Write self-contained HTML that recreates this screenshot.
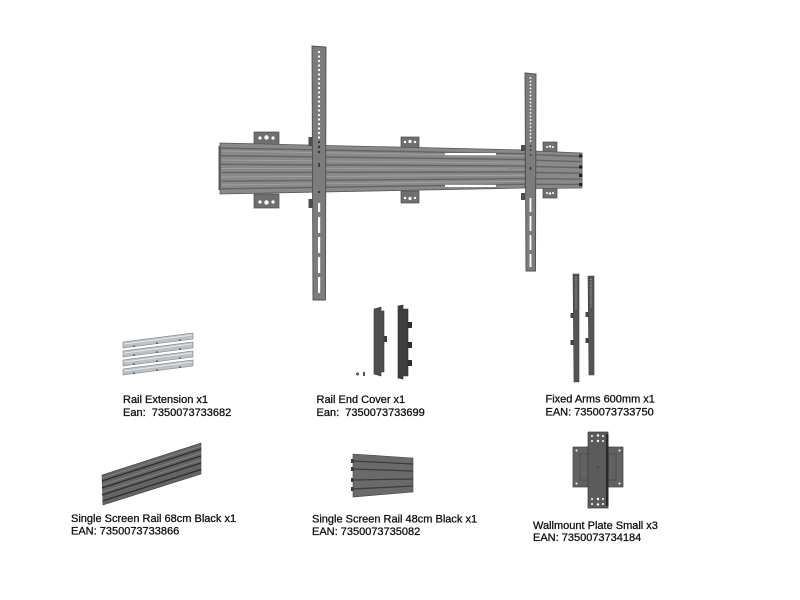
<!DOCTYPE html>
<html><head><meta charset="utf-8"><style>
html,body{margin:0;padding:0;background:#fff;}
svg{display:block;}
text{font-family:"Liberation Sans",Arial,sans-serif;font-size:11px;fill:#111;white-space:pre;stroke:#111;stroke-width:0.3px;}
</style></head><body>
<svg width="800" height="600" viewBox="0 0 800 600" xmlns="http://www.w3.org/2000/svg">
<rect width="800" height="600" fill="#fff"/>

<!-- wall brackets (behind rail) -->
<g fill="#6f6f6f" stroke="#4a4a4a" stroke-width="0.7">
  <rect x="254" y="132" width="25" height="14"/>
  <rect x="254" y="194" width="25" height="14"/>
  <rect x="401" y="137" width="18" height="12"/>
  <rect x="401" y="191" width="18" height="12"/>
  <rect x="543" y="142" width="14" height="11"/>
  <rect x="543" y="187" width="14" height="11"/>
</g>
<g fill="#fff">
  <circle cx="260" cy="138" r="1.6"/><circle cx="266.5" cy="137.5" r="2.2"/><circle cx="273" cy="138" r="1.6"/>
  <circle cx="260" cy="202" r="1.6"/><circle cx="266.5" cy="202.5" r="2.2"/><circle cx="273" cy="202" r="1.6"/>
  <circle cx="405" cy="142" r="1.2"/><circle cx="410" cy="141.5" r="1.6"/><circle cx="415" cy="142" r="1.2"/>
  <circle cx="405" cy="198" r="1.2"/><circle cx="410" cy="198.5" r="1.6"/><circle cx="415" cy="198" r="1.2"/>
  <circle cx="547" cy="147" r="1"/><circle cx="550" cy="146.5" r="1.2"/><circle cx="553" cy="147" r="1"/>
  <circle cx="547" cy="193" r="1"/><circle cx="550" cy="193.5" r="1.2"/><circle cx="553" cy="193" r="1"/>
</g>

<!-- main rail -->
<polygon points="220,143 525,150 525,188 220,194" fill="#898989" stroke="#5a5a5a" stroke-width="0.8"/>
<polygon points="534,151 582,153 582,188 534,188.5" fill="#898989" stroke="#5a5a5a" stroke-width="0.8"/>
<g stroke="#646464" stroke-width="1.4">
  <line x1="220" y1="148.1" x2="525" y2="153.8"/>
  <line x1="220" y1="155.7" x2="525" y2="159.5"/>
  <line x1="220" y1="164.4" x2="525" y2="166"/>
  <line x1="220" y1="172.6" x2="525" y2="172"/>
  <line x1="220" y1="181.2" x2="525" y2="178.5"/>
  <line x1="220" y1="188.9" x2="525" y2="184.2"/>
  <line x1="534" y1="154.7" x2="582" y2="156.5"/>
  <line x1="534" y1="160.2" x2="582" y2="161.7"/>
  <line x1="534" y1="166.5" x2="582" y2="167.7"/>
  <line x1="534" y1="172.5" x2="582" y2="173.3"/>
  <line x1="534" y1="178.7" x2="582" y2="179.2"/>
  <line x1="534" y1="184.3" x2="582" y2="184.5"/>
</g>
<g stroke="#a4a4a4" stroke-width="0.8">
  <line x1="220" y1="151" x2="525" y2="156"/>
  <line x1="220" y1="160" x2="525" y2="163"/>
  <line x1="220" y1="168.5" x2="525" y2="169"/>
  <line x1="220" y1="177" x2="525" y2="175.2"/>
  <line x1="220" y1="185" x2="525" y2="181.3"/>
</g>
<rect x="218.5" y="146" width="2.5" height="44" fill="#5d5d5d"/>
<g fill="#222">
  <rect x="579" y="154.5" width="3.5" height="3"/>
  <rect x="579" y="165.5" width="3.5" height="3"/>
  <rect x="579" y="174" width="3.5" height="3"/>
  <rect x="579" y="183" width="3.5" height="3"/>
  <rect x="527" y="152" width="3" height="3"/>
  <rect x="527" y="163" width="3" height="3"/>
  <rect x="527" y="174" width="3" height="3"/>
  <rect x="527" y="184" width="3" height="3"/>
</g>
<!-- white slots -->
<rect x="445" y="153" width="51" height="2.2" fill="#fff"/>
<rect x="445" y="184.8" width="51" height="2.2" fill="#fff"/>

<!-- arm clips -->
<g fill="#4e4e4e">
  <rect x="308.5" y="137" width="4" height="9"/>
  <rect x="308.5" y="199" width="4" height="9"/>
  <rect x="521" y="145" width="4" height="6"/>
  <rect x="521" y="193" width="4" height="7"/>
</g>

<!-- left arm -->
<polygon points="312,46 326,47 325.5,300 313,300" fill="#7c7c7c" stroke="#4f4f4f" stroke-width="0.9"/>
<g fill="#fff">
  <circle cx="319" cy="52" r="1.1"/><circle cx="319" cy="56.5" r="1.1"/><circle cx="319" cy="61" r="1.1"/><circle cx="319" cy="65.5" r="1.1"/>
  <circle cx="319" cy="70" r="1.1"/><circle cx="319" cy="74.5" r="1.1"/><circle cx="319" cy="79" r="1.1"/><circle cx="319" cy="83.5" r="1.1"/>
  <circle cx="319" cy="88" r="1.1"/><circle cx="319" cy="92.5" r="1.1"/><circle cx="319" cy="97" r="1.1"/><circle cx="319" cy="101.5" r="1.1"/>
  <circle cx="319" cy="106" r="1.1"/><circle cx="319" cy="110.5" r="1.1"/><circle cx="319" cy="115" r="1.1"/><circle cx="319" cy="119.5" r="1.1"/>
  <circle cx="319" cy="124" r="1.1"/><circle cx="319" cy="128.5" r="1.1"/><circle cx="319" cy="133" r="1.1"/><circle cx="319" cy="137.5" r="1.1"/>
  <rect x="318" y="217" width="2.2" height="16"/>
  <rect x="318" y="237" width="2.2" height="16"/>
  <rect x="318" y="257" width="2.2" height="16"/>
  <rect x="318" y="277" width="2.2" height="16"/>
  <rect x="318" y="203" width="2.2" height="9"/>
</g>
<g fill="#333">
  <circle cx="319" cy="142" r="1.1"/><circle cx="319" cy="147" r="1.2"/><circle cx="319" cy="152" r="1.2"/>
  <rect x="318.3" y="163" width="1.6" height="4"/>
  <circle cx="319" cy="192" r="1.1"/>
</g>

<!-- right arm -->
<polygon points="525,73 536,74 535.5,271 526,271" fill="#7c7c7c" stroke="#4f4f4f" stroke-width="0.9"/>
<g fill="#fff">
  <circle cx="530.5" cy="78" r="0.9"/><circle cx="530.5" cy="81.5" r="0.9"/><circle cx="530.5" cy="85" r="0.9"/><circle cx="530.5" cy="88.5" r="0.9"/>
  <circle cx="530.5" cy="92" r="0.9"/><circle cx="530.5" cy="95.5" r="0.9"/><circle cx="530.5" cy="99" r="0.9"/><circle cx="530.5" cy="102.5" r="0.9"/>
  <circle cx="530.5" cy="106" r="0.9"/><circle cx="530.5" cy="109.5" r="0.9"/><circle cx="530.5" cy="113" r="0.9"/><circle cx="530.5" cy="116.5" r="0.9"/>
  <circle cx="530.5" cy="120" r="0.9"/><circle cx="530.5" cy="123.5" r="0.9"/><circle cx="530.5" cy="127" r="0.9"/><circle cx="530.5" cy="130.5" r="0.9"/>
  <circle cx="530.5" cy="134" r="0.9"/><circle cx="530.5" cy="137.5" r="0.9"/><circle cx="530.5" cy="141" r="0.9"/>
  <rect x="529.6" y="198" width="1.8" height="14"/>
  <rect x="529.6" y="216" width="1.8" height="15"/>
  <rect x="529.6" y="235" width="1.8" height="15"/>
  <rect x="529.6" y="254" width="1.8" height="13"/>
</g>
<g fill="#333">
  <circle cx="530.5" cy="146" r="0.9"/><circle cx="530.5" cy="150" r="0.9"/><circle cx="530.5" cy="155" r="0.9"/>
  <rect x="529.8" y="167" width="1.4" height="3"/>
</g>

<!-- Rail Extension -->
<g stroke="#7f858a" stroke-width="0.6">
  <polygon points="123,342 193,333 193,339 123,348" fill="#bcc1c5"/>
  <polygon points="123,351 193,342 193,348 123,357" fill="#bcc1c5"/>
  <polygon points="123,360 193,351 193,357 123,366" fill="#bcc1c5"/>
  <polygon points="123,369 193,360 193,366 123,375" fill="#bcc1c5"/>
</g>
<g stroke="#e6e8ea" stroke-width="1">
  <line x1="124" y1="344" x2="192" y2="335"/>
  <line x1="124" y1="353" x2="192" y2="344"/>
  <line x1="124" y1="362" x2="192" y2="353"/>
  <line x1="124" y1="371" x2="192" y2="362"/>
</g>
<g fill="#333">
  <circle cx="134" cy="346" r="0.8"/><circle cx="157" cy="343" r="0.8"/><circle cx="180" cy="340" r="0.8"/>
  <circle cx="134" cy="355" r="0.8"/><circle cx="157" cy="352" r="0.8"/><circle cx="180" cy="349" r="0.8"/>
  <circle cx="134" cy="364" r="0.8"/><circle cx="157" cy="361" r="0.8"/><circle cx="180" cy="358" r="0.8"/>
  <circle cx="134" cy="373" r="0.8"/><circle cx="157" cy="370" r="0.8"/><circle cx="180" cy="367" r="0.8"/>
</g>

<!-- Rail End Cover -->
<path d="M374,309 L381,307 L381,311 L384,311 L384,372 L381,372 L381,376 L374,374 Z" fill="#4e4e4e" stroke="#333" stroke-width="0.6"/>
<rect x="384" y="336" width="3" height="6" fill="#3c3c3c"/>
<path d="M398,306 L403,305 L403,309 L408,309 L408,376 L403,376 L403,379 L398,378 Z" fill="#3e3e3e" stroke="#2a2a2a" stroke-width="0.6"/>
<g fill="#2f2f2f">
  <rect x="408" y="322" width="4" height="6"/>
  <rect x="408" y="342" width="4" height="6"/>
  <rect x="408" y="360" width="4" height="6"/>
</g>
<circle cx="357.5" cy="374" r="1.5" fill="#555"/>
<rect x="363" y="372" width="2" height="4" fill="#555"/>

<!-- Fixed Arms -->
<polygon points="573,274 579,274 579,382 574,382" fill="#555" stroke="#3a3a3a" stroke-width="0.6"/>
<polygon points="588,276 594,276 594,375 589,375" fill="#555" stroke="#3a3a3a" stroke-width="0.6"/>
<g fill="#444">
  <rect x="570.5" y="313" width="3" height="5"/>
  <rect x="570.5" y="340" width="3" height="5"/>
  <rect x="585.5" y="312" width="3" height="5"/>
  <rect x="585.5" y="338" width="3" height="5"/>
</g>
<g stroke="#cfcfcf" stroke-width="0.8" stroke-dasharray="1 1.2">
  <line x1="576" y1="277" x2="576" y2="310"/>
  <line x1="591" y1="279" x2="591" y2="308"/>
</g>

<!-- Single Screen Rail 68cm -->
<polygon points="102,475 201,443 201,474 103,505" fill="#646464" stroke="#444" stroke-width="0.6"/>
<g stroke="#2e2e2e" stroke-width="1.3">
  <line x1="102" y1="481" x2="201" y2="449"/>
  <line x1="102" y1="488" x2="201" y2="456"/>
  <line x1="102" y1="495" x2="201" y2="463"/>
  <line x1="102.5" y1="501" x2="201" y2="469.5"/>
</g>
<g stroke="#8a8a8a" stroke-width="0.7">
  <line x1="102" y1="478" x2="201" y2="446"/>
  <line x1="102" y1="485" x2="201" y2="453"/>
  <line x1="102" y1="492" x2="201" y2="460"/>
</g>

<!-- Single Screen Rail 48cm -->
<polygon points="353,454 413,458 413,492 353,497" fill="#6a6a6a" stroke="#454545" stroke-width="0.6"/>
<g stroke="#3c3c3c" stroke-width="1.3">
  <line x1="353" y1="461" x2="413" y2="464"/>
  <line x1="353" y1="469" x2="413" y2="471"/>
  <line x1="353" y1="480" x2="413" y2="479"/>
  <line x1="353" y1="489" x2="413" y2="486"/>
</g>
<g fill="#3a3a3a">
  <rect x="351" y="459" width="2.5" height="4"/>
  <rect x="351" y="467" width="2.5" height="4"/>
  <rect x="351" y="478" width="2.5" height="4"/>
  <rect x="351" y="487" width="2.5" height="4"/>
</g>

<!-- Wallmount Plate Small -->
<rect x="573" y="447" width="50" height="40" fill="#626262" stroke="#404040" stroke-width="0.7"/>
<path d="M580,454 L616,454 L616,480 L580,480 Z" fill="none" stroke="#4a4a4a" stroke-width="0.8"/>
<g fill="#fff">
  <circle cx="576.5" cy="450.5" r="1"/><circle cx="619.5" cy="450.5" r="1"/>
  <circle cx="576.5" cy="483.5" r="1"/><circle cx="619.5" cy="483.5" r="1"/>
</g>
<rect x="588" y="432" width="20" height="76" fill="#5b5b5b" stroke="#3c3c3c" stroke-width="0.7"/>
<rect x="606" y="434" width="2.5" height="72" fill="#2a2a2a"/>
<g fill="#fff">
  <circle cx="592" cy="436" r="1"/><circle cx="598" cy="435.5" r="1.2"/><circle cx="603" cy="436" r="1"/>
  <circle cx="592" cy="441" r="1"/><circle cx="598" cy="441" r="1.2"/><circle cx="603" cy="441" r="1"/>
  <circle cx="592" cy="499" r="1"/><circle cx="598" cy="499" r="1.2"/><circle cx="603" cy="499" r="1"/>
  <circle cx="592" cy="504" r="1"/><circle cx="598" cy="504.5" r="1.2"/><circle cx="603" cy="504" r="1"/>
</g>
<circle cx="598" cy="467" r="0.8" fill="#333"/>

<!-- Labels -->
<text x="123" y="403">Rail Extension x1</text>
<text x="123" y="416">Ean:  7350073733682</text>
<text x="316.5" y="403">Rail End Cover x1</text>
<text x="316.5" y="416">Ean:  7350073733699</text>
<text x="545.5" y="402.5">Fixed Arms 600mm x1</text>
<text x="545.5" y="415.5">EAN: 7350073733750</text>
<text x="71" y="522">Single Screen Rail 68cm Black x1</text>
<text x="71" y="534.5">EAN: 7350073733866</text>
<text x="312" y="522.5">Single Screen Rail 48cm Black x1</text>
<text x="312" y="535">EAN: 7350073735082</text>
<text x="533" y="529">Wallmount Plate Small x3</text>
<text x="533" y="541">EAN: 7350073734184</text>
</svg>
</body></html>
